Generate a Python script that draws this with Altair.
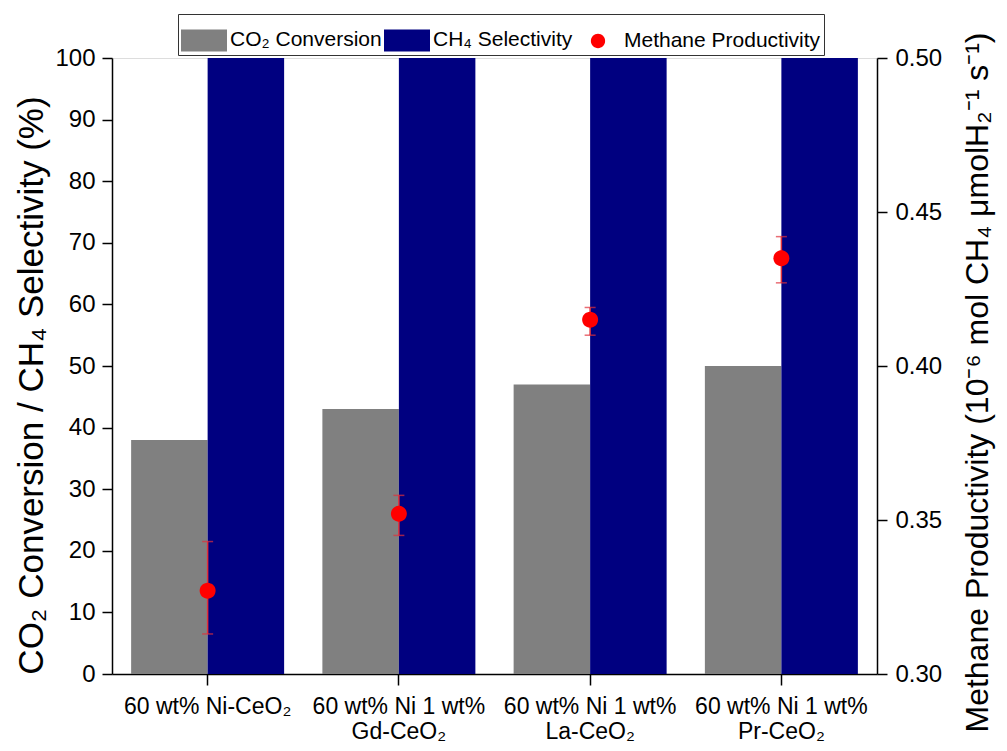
import altair as alt
import pandas as pd

categories = [
    "60 wt% Ni-CeO₂",
    "60 wt% Ni 1 wt%\nGd-CeO₂",
    "60 wt% Ni 1 wt%\nLa-CeO₂",
    "60 wt% Ni 1 wt%\nPr-CeO₂",
]
co2_conversion = [38, 43, 47, 50]
ch4_selectivity = [100, 100, 100, 100]
productivity = [0.327, 0.352, 0.415, 0.435]
prod_low = [0.313, 0.345, 0.410, 0.427]
prod_high = [0.343, 0.358, 0.419, 0.442]

series = ["CO₂ Conversion", "CH₄ Selectivity", "Methane Productivity"]
series_colors = ["#808080", "#000080", "#FF0000"]
# legend/point symbols: rectangles for bars, circle for points
series_shapes = [
    "M-1,-0.48L1,-0.48L1,0.48L-1,0.48Z",
    "M-1,-0.48L1,-0.48L1,0.48L-1,0.48Z",
    "M0.31,0A0.31,0.31 0 1,1 -0.31,0A0.31,0.31 0 1,1 0.31,0Z",
]

bar_rows = []
for c, a, b in zip(categories, co2_conversion, ch4_selectivity):
    bar_rows.append({"cat": c, "series": series[0], "value": a})
    bar_rows.append({"cat": c, "series": series[1], "value": b})
bars_df = pd.DataFrame(bar_rows)

pts_df = pd.DataFrame({
    "cat": categories,
    "series": [series[2]] * len(categories),
    "prod": productivity,
    "low": prod_low,
    "high": prod_high,
})

FONT = "Liberation Sans"

x_enc = alt.X(
    "cat:N",
    sort=categories,
    scale=alt.Scale(paddingInner=0.2, paddingOuter=0.1),
    axis=alt.Axis(
        title=None,
        labelAngle=0,
        labelExpr="split(datum.label, '\\n')",
        labelFontSize=23,
        labelLineHeight=25,
        labelPadding=10,
        tickSize=11,
        labelColor="black",
        domainColor="black",
        tickColor="black",
        domainWidth=1.5,
        tickWidth=1.5,
        labelFont=FONT,
    ),
)

legend_def = alt.Legend(
    title=None,
    orient="none",
    direction="horizontal",
    legendX=66,
    legendY=-44,
    strokeColor="#333333",
    padding=3,
    symbolSize=2116,
    symbolStrokeWidth=0,
    symbolOpacity=1,
    labelFontSize=21,
    labelFont=FONT,
    labelColor="black",
    labelOffset=3,
    columnPadding=2,
    labelLimit=400,
)

color_enc = alt.Color(
    "series:N",
    scale=alt.Scale(domain=series, range=series_colors),
    legend=legend_def,
)

shape_enc = alt.Shape(
    "series:N",
    scale=alt.Scale(domain=series, range=series_shapes),
    legend=legend_def,
)

bars = alt.Chart(bars_df).mark_bar().encode(
    x=x_enc,
    xOffset=alt.XOffset("series:N", sort=series[:2], scale=alt.Scale(paddingInner=0, paddingOuter=0)),
    y=alt.Y(
        "value:Q",
        scale=alt.Scale(domain=[0, 100], nice=False),
        axis=alt.Axis(
            title="CO₂ Conversion / CH₄ Selectivity (%)",
            values=list(range(0, 101, 10)),
            grid=False,
            orient="left",
            labelFontSize=24,
            titleFontSize=35,
            titleFontWeight="normal",
            titleY=327,
            tickSize=10,
            labelPadding=7,
            titlePadding=5,
            labelColor="black",
            titleColor="black",
            domainColor="black",
            tickColor="black",
            domainWidth=1.5,
            tickWidth=1.5,
            labelFont=FONT,
            titleFont=FONT,
        ),
    ),
    color=color_enc,
)

right_axis = alt.Axis(
    title="Methane Productivity (10⁻⁶ mol CH₄ μmolH₂⁻¹ s⁻¹)",
    values=[0.30, 0.35, 0.40, 0.45, 0.50],
    format=".2f",
    grid=False,
    orient="right",
    labelFontSize=24,
    titleFontSize=32,
    titleFontWeight="normal",
    titleAngle=270,
    titleY=324,
    tickSize=10,
    labelPadding=8,
    titlePadding=53,
    labelColor="black",
    titleColor="black",
    domainColor="black",
    tickColor="black",
    domainWidth=1.5,
    tickWidth=1.5,
    labelFont=FONT,
    titleFont=FONT,
)
right_scale = alt.Scale(domain=[0.30, 0.50], nice=False)

errbars = alt.Chart(pts_df).mark_errorbar(
    ticks=alt.MarkConfig(size=11), color="#E0303A", thickness=1.5
).encode(
    x=alt.X("cat:N", sort=categories),
    y=alt.Y("low:Q", scale=right_scale, axis=right_axis),
    y2="high:Q",
)

points = alt.Chart(pts_df).mark_point(filled=True, size=2650, opacity=1).encode(
    x=alt.X("cat:N", sort=categories),
    y=alt.Y("prod:Q", scale=right_scale, axis=right_axis),
    color=color_enc,
    shape=shape_enc,
)

right = alt.layer(errbars, points)

chart = (
    alt.layer(bars, right)
    .resolve_scale(y="independent")
    .properties(
        width=765,
        height=616,
        padding={"left": 112, "top": 58, "right": 130, "bottom": 77},
        autosize=alt.AutoSizeParams(type="none"),
        background="white",
    )
    .configure_view(stroke="black", strokeWidth=1.5)
    .configure(font=FONT)
)

chart.save("out.html", embed_options={"renderer": "svg", "actions": False})
